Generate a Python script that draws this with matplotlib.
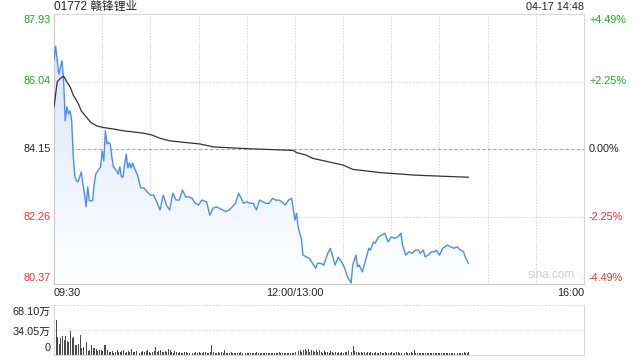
import matplotlib
matplotlib.use("Agg")
import matplotlib.pyplot as plt
import numpy as np
from matplotlib.colors import LinearSegmentedColormap

plt.rcParams['font.family'] = ['Liberation Sans', 'Noto Sans CJK SC', 'DejaVu Sans']

# ---------------- data ----------------
title = "01772 赣锋锂业"
stamp = "04-17 14:48"
prev_close = 84.15
y_ticks = [87.93, 86.04, 84.15, 82.26, 80.37]
pct_labels = ["+4.49%", "+2.25%", "0.00%", "-2.25%", "-4.49%"]
x_tick_pos = [0, 150, 330]
x_tick_labels = ["09:30", "12:00/13:00", "16:00"]

# minutes since 09:30 (lunch break removed)
price_min = [0, 1, 3, 5, 6, 7, 8, 9, 10, 11, 12, 13, 14, 15, 17, 18, 19, 20, 21, 22,
             23, 24, 25, 26, 28, 29, 30, 31, 32, 33, 34, 35, 36, 37, 38, 39, 40, 41,
             42, 43, 44, 45, 46, 47, 48, 49, 50, 52, 54, 56, 58, 60, 62, 64, 66, 68,
             70, 72, 74, 76, 78, 80, 82, 84, 86, 88, 90, 92, 95, 97, 99, 101, 103,
             105, 107, 109, 111, 113, 115, 118, 120, 122, 124, 126, 128, 130, 132,
             134, 136, 138, 140, 142, 144, 146, 148, 150, 151, 152, 153, 154, 155,
             157, 159, 161, 163, 164, 166, 168, 170, 172, 173, 175, 177, 179, 181,
             182, 183, 185, 186, 188, 189, 190, 192, 194, 196, 197, 199, 200, 202,
             204, 206, 208, 210, 212, 214, 216, 217, 219, 221, 223, 225, 227, 228,
             230, 231, 233, 235, 237, 238, 240, 242, 245, 247, 249, 251, 253, 255,
             256, 258]
price_val = [86.64, 87.03, 86.25, 86.62, 86.06, 84.94, 85.33, 85.13, 85.22, 84.95,
             83.93, 83.37, 83.26, 83.23, 83.51, 83.17, 82.89, 82.53, 83.09, 82.70,
             82.70, 82.70, 83.17, 83.45, 83.59, 83.65, 84.10, 83.82, 84.66, 84.29,
             84.34, 84.29, 83.93, 83.65, 83.59, 83.54, 83.45, 83.65, 83.37, 83.37,
             83.73, 84.01, 83.62, 83.76, 83.62, 83.76, 83.62, 83.42, 83.06, 83.06,
             82.95, 82.86, 82.86, 82.67, 82.44, 82.86, 82.58, 82.44, 82.91, 82.72,
             82.72, 83.00, 82.81, 82.81, 82.77, 82.63, 82.58, 82.72, 82.67, 82.30,
             82.49, 82.53, 82.49, 82.44, 82.40, 82.44, 82.53, 82.63, 82.91, 82.63,
             82.67, 82.63, 82.63, 82.44, 82.72, 82.67, 82.63, 82.63, 82.77, 82.72,
             82.72, 82.67, 82.58, 82.72, 82.77, 82.16, 82.35, 81.97, 81.79, 81.65,
             81.18, 81.13, 81.09, 80.95, 80.81, 80.95, 80.95, 80.90, 81.18, 81.37,
             81.23, 80.90, 81.12, 80.99, 80.81, 80.67, 80.55, 80.40, 80.90, 81.18,
             80.85, 80.90, 80.71, 81.04, 81.37, 81.32, 81.55, 81.51, 81.69, 81.74,
             81.79, 81.55, 81.69, 81.65, 81.69, 81.79, 81.46, 81.18, 81.27, 81.23,
             81.32, 81.32, 81.23, 81.32, 81.13, 81.18, 81.27, 81.27, 81.32, 81.18,
             81.37, 81.46, 81.41, 81.37, 81.41, 81.32, 81.27, 81.13, 80.95]

avg_min = [0, 2, 4, 6, 8, 10, 12, 15, 17, 20, 23, 27, 31, 37, 43, 49, 56, 61, 66,
           72, 80, 91, 99, 107, 120, 132, 149, 151, 157, 161, 172, 180, 186, 203,
           224, 240, 258]
avg_val = [85.33, 86.03, 86.13, 86.19, 86.03, 85.89, 85.66, 85.43, 85.22, 85.05,
           84.89, 84.79, 84.75, 84.71, 84.66, 84.63, 84.59, 84.54, 84.45, 84.38,
           84.34, 84.29, 84.21, 84.19, 84.16, 84.14, 84.11, 84.05, 83.98, 83.89,
           83.78, 83.70, 83.58, 83.49, 83.42, 83.39, 83.36]

# volume in 万 shares, one bar per minute from 09:30 (minute 0) to 14:48 (minute 258)
vol_max = 68.10
vol_ticks = [68.10, 34.05, 0]
vol_tick_labels = ["68.10万", "34.05万", "0"]
vol_val = [
    68.1, 47.7, 25.0, 14.5, 23.6, 26.3, 20.4, 26.3, 19.5, 18.2,
    32.7, 22.7, 25.0, 13.6, 13.6, 14.5, 27.2, 9.1, 11.4, 6.8,
    17.3, 5.4, 6.8, 13.6, 10.0, 10.0, 8.2, 5.4, 6.8, 6.4,
    5.9, 13.6, 13.6, 6.8, 4.5, 4.5, 5.4, 3.2, 4.5, 6.8,
    3.6, 4.1, 5.4, 6.8, 3.2, 4.5, 5.0, 3.6, 8.6, 4.1,
    3.6, 5.4, 6.4, 3.2, 4.5, 5.9, 3.6, 5.0, 6.8, 4.1,
    3.2, 4.5, 5.0, 11.4, 4.1, 5.4, 6.8, 3.6, 4.5, 5.9,
    4.1, 8.2, 7.3, 4.1, 3.2, 5.4, 3.6, 2.7, 4.1, 3.2,
    2.7, 3.6, 4.5, 3.2, 2.7, 3.6, 2.3, 3.2, 4.1, 2.7,
    3.6, 3.2, 2.7, 4.5, 3.6, 2.3, 3.2, 4.1, 13.6, 3.6,
    2.7, 3.2, 4.1, 2.7, 3.6, 2.3, 6.8, 3.2, 2.7, 2.3,
    3.6, 2.7, 2.3, 3.2, 2.7, 2.3, 3.6, 2.7, 2.3, 3.2,
    2.7, 2.3, 2.7, 3.2, 2.3, 2.7, 3.6, 2.3, 2.7, 3.2,
    2.3, 2.7, 2.3, 3.2, 2.7, 2.3, 2.7, 3.2, 2.3, 2.7,
    3.6, 2.3, 2.7, 2.3, 3.2, 2.7, 2.3, 2.7, 3.2, 2.7,
    4.5, 20.4, 5.4, 7.3, 4.1, 6.8, 8.2, 5.4, 7.7, 4.5,
    6.8, 5.0, 4.1, 7.3, 3.6, 6.4, 4.5, 3.2, 5.9, 3.6,
    4.1, 3.2, 5.0, 3.6, 2.7, 4.1, 3.2, 4.5, 2.7, 3.6,
    3.2, 4.1, 3.6, 5.0, 9.3, 4.1, 12.5, 5.4, 3.6, 4.5,
    3.2, 4.1, 2.7, 3.6, 3.2, 4.1, 2.7, 3.6, 3.2, 2.7,
    3.6, 2.7, 3.2, 4.1, 2.7, 3.2, 3.6, 2.7, 3.2, 2.7,
    3.6, 3.2, 2.7, 3.6, 4.1, 2.7, 3.2, 3.6, 2.7, 4.6,
    3.2, 2.7, 3.6, 2.7, 6.5, 3.2, 2.3, 2.7, 3.2, 2.3,
    2.7, 2.3, 3.2, 2.7, 2.3, 2.7, 3.2, 2.3, 2.7, 2.3,
    3.2, 2.7, 2.3, 2.7, 3.2, 2.3, 2.7, 3.2, 2.3, 2.7,
    2.3, 2.7, 3.2, 2.7, 2.3, 3.6, 2.7, 3.2, 3.6,
]
vol_min = list(range(len(vol_val)))

# ---------------- styling ----------------
GREEN = '#1fa81f'
RED = '#f2302b'
BLUE = '#4c8df3'
GRID = '#d0d0d0'

fig = plt.figure(figsize=(6.4, 3.6), dpi=100)
fig.patch.set_facecolor('white')
ax = fig.add_axes([54/640, 1-284/360, 530/640, 270/360])
axv = fig.add_axes([54/640, 1-355/360, 530/640, 50/360])

ax.set_xlim(0, 330)
ax.set_ylim(y_ticks[-1], y_ticks[0])

# gradient fill under price line
cmap = LinearSegmentedColormap.from_list('g', ['#d3e2fb', '#ffffff'])
grad = np.linspace(0, 1, 256).reshape(-1, 1)
im = ax.imshow(grad, cmap=cmap, aspect='auto',
               extent=[0, 330, y_ticks[-1], y_ticks[0]], zorder=1)
poly = ax.fill_between(price_min, price_val, y_ticks[-1], color='none', lw=0)
im.set_clip_path(poly.get_paths()[0], transform=ax.transData)

# grid
for xv in range(30, 330, 30):
    ax.axvline(xv, color=GRID, lw=0.8, ls=(0, (1, 1.5)), zorder=0.5)
for yv in [y_ticks[1], y_ticks[3]]:
    ax.axhline(yv, color=GRID, lw=0.8, ls=(0, (1, 1.5)), zorder=0.5)
ax.axhline(prev_close, color='#a8a8a8', lw=0.8, ls=(0, (3, 2)), zorder=0.5)

ax.plot(price_min, price_val, color=BLUE, lw=1.0, zorder=3)
ax.plot(avg_min, avg_val, color='#333333', lw=0.9, zorder=3)

for s in ['top', 'right']:
    ax.spines[s].set_color('#d8d8d8')
for s in ['left', 'bottom']:
    ax.spines[s].set_color('#c8c8c8')
for s in ax.spines.values():
    s.set_linewidth(0.8)
ax.set_xticks([])
ax.set_yticks([])

# left price labels & right pct labels
colors = [GREEN, GREEN, '#222222', RED, RED]
offsets = [6, 0, 0, 0, -6]
for v, lab, c, off in zip(y_ticks, pct_labels, colors, offsets):
    ax.annotate(f"{v:.2f}", xy=(0, v), xytext=(-3, -off), textcoords='offset pixels',
                ha='right', va='center', color=c, fontsize=7.8, annotation_clip=False)
    ax.annotate(lab, xy=(330, v), xytext=(5, -off), textcoords='offset pixels',
                ha='left', va='center', color=c, fontsize=7.8, annotation_clip=False)

# x labels
has = ['left', 'center', 'right']
for xp, lab, h in zip(x_tick_pos, x_tick_labels, has):
    ax.annotate(lab, xy=(xp, y_ticks[-1]), xytext=(0, -4), textcoords='offset pixels',
                ha=h, va='top', color='#222222', fontsize=7.8, annotation_clip=False)

ax.text(0.982, 0.012, "sina.com", transform=ax.transAxes, ha='right', va='bottom',
        color='#cfcfcf', fontsize=8.5)

fig.text(54/640, 1-7/360, title, ha='left', va='center', fontsize=8.5, color='#222222')
fig.text(584/640, 1-7/360, stamp, ha='right', va='center', fontsize=7.8, color='#222222')

# volume panel
axv.set_xlim(0, 330)
axv.set_ylim(0, vol_max)
axv.bar(vol_min, vol_val, width=0.6, color='#4a4a4a', align='edge', zorder=2)
axv.axhline(vol_ticks[1], color=GRID, lw=0.8, ls=(0, (1, 1.5)), zorder=0.5)
axv.axhline(vol_ticks[0], color=GRID, lw=0.8, ls=(0, (1, 1.5)), zorder=0.5)
axv.spines['top'].set_visible(False)
for s in ['left', 'right', 'bottom']:
    axv.spines[s].set_color('#d8d8d8')
    axv.spines[s].set_linewidth(0.8)
axv.set_xticks([])
axv.set_yticks([])
voffs = [7, 1.5, -7]
for v, lab, off in zip(vol_ticks, vol_tick_labels, voffs):
    axv.annotate(lab, xy=(0, v), xytext=(-3, -off), textcoords='offset pixels',
                 ha='right', va='center', color='#222222', fontsize=7.8,
                 annotation_clip=False)

fig.savefig('out.png', dpi=100)
